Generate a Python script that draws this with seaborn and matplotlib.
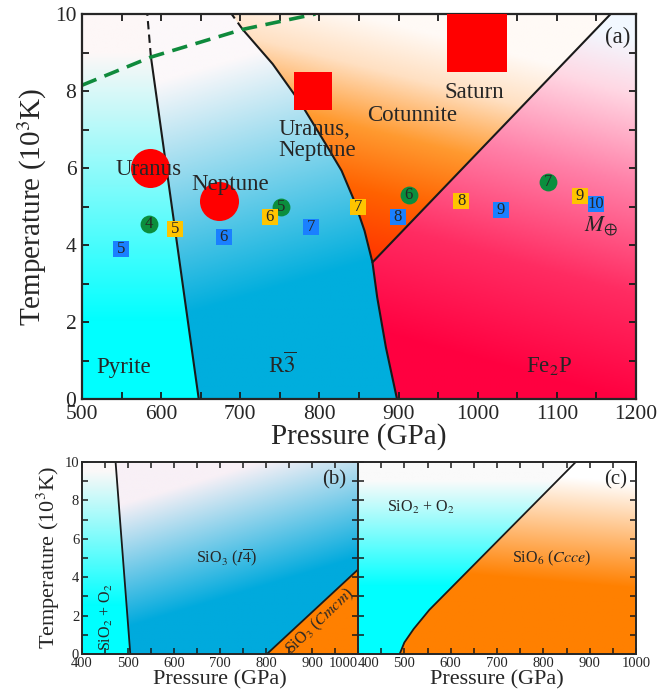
import numpy as np
import pandas as pd
import matplotlib
matplotlib.use('Agg')
import matplotlib.pyplot as plt
import seaborn as sns
from matplotlib.colors import LinearSegmentedColormap
from matplotlib.patches import Polygon
from matplotlib.ticker import MultipleLocator

# ---------------- data ----------------
# panel (a): phase boundaries, pressure in GPa, temperature in 10^3 K
pyr_P = [647.5, 587.0]
pyr_T = [0.0, 8.9]
pyr_dash_P = [587.0, 582.5]
pyr_dash_T = [8.9, 10.0]

r3_P = [898, 884, 873, 867, 857, 844, 828, 808, 777, 741, 703]
r3_T = [0.0, 1.34, 2.64, 3.55, 4.37, 5.15, 5.93, 6.62, 7.66, 8.7, 9.6]
r3_dash_P = [703, 689]
r3_dash_T = [9.6, 10.0]

cot_P = [867, 1168]
cot_T = [3.55, 10.0]

green_P = [500, 587, 703, 795]
green_T = [8.15, 8.88, 9.6, 10.0]

# planets
circ_P = [586, 673]
circ_T = [6.0, 5.13]
un_P, un_T = [792.5], [7.99]
sat_P, sat_T = [999.4], [9.26]

# numbered points (Earth masses)
g_P = [585, 752, 913, 1089]
g_T = [4.55, 4.98, 5.30, 5.63]
g_lab = ['4', '5', '6', '7']
y_P = [618, 737, 849, 979, 1129]
y_T = [4.42, 4.74, 4.98, 5.13, 5.28]
y_lab = ['5', '6', '7', '8', '9']
b_P = [549, 679, 789.5, 899, 1029, 1149]
b_T = [3.90, 4.22, 4.48, 4.72, 4.91, 5.06]
b_lab = ['5', '6', '7', '8', '9', '10']

# panel (b)
b1_P = [473, 505]
b1_T = [10.0, 0.0]
b2_P = [802, 1000]
b2_T = [0.0, 4.4]

# panel (c)
c_P = [490, 500, 520, 554, 870]
c_T = [0.0, 0.6, 1.3, 2.3, 10.0]

bottom_ticks = [400, 500, 600, 700, 800, 900, 1000]

# ---------------- style ----------------
sns.set_theme(style='ticks', rc={
    'xtick.direction': 'in', 'ytick.direction': 'in',
    'xtick.top': True, 'ytick.right': True,
    'axes.linewidth': 1.6,
})
plt.rcParams['font.family'] = ['Liberation Serif', 'DejaVu Serif']
plt.rcParams['mathtext.fontset'] = 'stix'

fig = plt.figure(figsize=(6.61, 7.0), dpi=100)
axa = fig.add_axes([82/661, 301/700, 554/661, 385/700])
axb = fig.add_axes([82/661, 46/700, 276/661, 192/700])
axc = fig.add_axes([358/661, 46/700, 278/661, 192/700])


def fill(ax, px, py, stops, vfun, xr, yr):
    X, Y = np.meshgrid(np.linspace(xr[0], xr[1], 300), np.linspace(yr[0], yr[1], 300))
    v = np.clip(vfun(X, Y), 0, 1)
    cmap = LinearSegmentedColormap.from_list('g', stops)
    im = ax.imshow(v, extent=[xr[0], xr[1], yr[0], yr[1]], origin='lower', cmap=cmap,
                   vmin=0, vmax=1, aspect='auto', zorder=0, interpolation='bilinear')
    poly = Polygon(np.column_stack([px, py]), closed=True, transform=ax.transData,
                   facecolor='none', edgecolor='none')
    ax.add_patch(poly)
    im.set_clip_path(poly)


def line(ax, P, T, color='k', lw=1.5, dashes=None):
    sns.lineplot(x=P, y=T, sort=False, estimator=None, color=color, lw=lw, ax=ax, zorder=2)
    if dashes:
        ax.lines[-1].set_dashes(dashes)


# ---------------- panel (a) ----------------
ax = axa
xr, yr = (500, 1200), (0, 10)
fill(ax, [500] + pyr_P + pyr_dash_P[1:] + [500], [0] + pyr_T + pyr_dash_T[1:] + [10],
     [(0, '#00ffff'), (1, '#fdf7f7')], lambda X, Y: (Y - 2) / 7, xr, yr)
r3_all_P = r3_P + r3_dash_P[1:]
r3_all_T = r3_T + r3_dash_T[1:]
fill(ax, pyr_P + pyr_dash_P[1:] + r3_all_P[::-1],
     pyr_T + pyr_dash_T[1:] + r3_all_T[::-1],
     [(0, '#00aedd'), (1, '#fcf8fa')], lambda X, Y: (Y - 2.6 - 0.006 * (X - 700)) / 6.3, xr, yr)
fill(ax, r3_all_P[3:] + [cot_P[1]], r3_all_T[3:] + [cot_T[1]],
     [(0, '#ff3000'), (0.3, '#ff6200'), (0.55, '#ff9a30'), (0.8, '#ffe0c2'), (1, '#fffaf6')],
     lambda X, Y: (Y - 3.5) / 6.5 + 0.0008 * (X - 850), xr, yr)
fill(ax, [r3_P[0], 1200, 1200] + cot_P[::-1] + r3_P[1:3][::-1],
     [0, 0, 10] + cot_T[::-1] + r3_T[1:3][::-1],
     [(0, '#ff0040'), (0.3, '#ff2c62'), (0.6, '#ff80a8'), (0.85, '#ffd8e4'), (1, '#f2f8ff')],
     lambda X, Y: (Y - 1) / 9.5 + 0.0006 * (X - 1000), xr, yr)

line(ax, pyr_P, pyr_T)
line(ax, pyr_dash_P, pyr_dash_T, dashes=(4, 2.5))
line(ax, r3_P, r3_T)
line(ax, r3_dash_P, r3_dash_T, dashes=(4, 2.5))
line(ax, cot_P, cot_T)
line(ax, green_P, green_T, color='#0f8a3c', lw=2.6, dashes=(4.3, 2.4))

sns.scatterplot(x=circ_P, y=circ_T, s=790, color='#ff0000', linewidth=0, ax=ax, zorder=3)
sns.scatterplot(x=un_P, y=un_T, s=710, marker='s', color='#ff0000', linewidth=0, ax=ax, zorder=3)
sns.scatterplot(x=sat_P, y=sat_T, s=1870, marker='s', color='#ff0000', linewidth=0, ax=ax, zorder=3)

sns.scatterplot(x=g_P, y=g_T, s=165, color='#0b8e3e', linewidth=0, ax=ax, zorder=4)
sns.scatterplot(x=y_P, y=y_T, s=125, marker='s', color='#ffc400', linewidth=0, ax=ax, zorder=4)
sns.scatterplot(x=b_P, y=b_T, s=125, marker='s', color='#1a80ff', linewidth=0, ax=ax, zorder=4)
for P, T, L in zip(g_P + y_P + b_P, g_T + y_T + b_T, g_lab + y_lab + b_lab):
    ax.text(P, T, L, fontsize=12, ha='center', va='center', zorder=5)

lab = dict(fontsize=16.5, ha='center', va='center', zorder=6)
ax.text(584, 5.96, 'Uranus', **lab)
ax.text(687, 5.57, 'Neptune', **lab)
ax.text(748, 6.74, 'Uranus,\nNeptune', fontsize=16.5, ha='left', va='center',
        linespacing=1.0, zorder=6)
ax.text(916.5, 7.36, 'Cotunnite', **lab)
ax.text(996, 7.97, 'Saturn', **lab)
ax.text(1177, 9.4, '(a)', **lab)
ax.text(1156, 4.5, r'$M_{\oplus}$', **lab)
ax.text(552, 0.82, 'Pyrite', **lab)
ax.text(753, 0.87, r'R$\overline{3}$', **lab)
ax.text(1090, 0.85, r'Fe$_2$P', **lab)

ax.set_xlim(500, 1200)
ax.set_ylim(0, 10)
ax.xaxis.set_major_locator(MultipleLocator(100))
ax.xaxis.set_minor_locator(MultipleLocator(50))
ax.yaxis.set_major_locator(MultipleLocator(2))
ax.yaxis.set_minor_locator(MultipleLocator(1))
ax.tick_params(which='both', length=5, width=1.3, labelsize=15.5, color='k', pad=4)
ax.set_xlabel('Pressure (GPa)', fontsize=21, labelpad=0)
ax.set_ylabel(r'Temperature (10$^3$K)', fontsize=21, labelpad=4)

# ---------------- panel (b) ----------------
ax = axb
xr = (400, 1000)
fill(ax, [400, b1_P[1], b1_P[0], 400], [0, 0, 10, 10],
     [(0, '#00ffff'), (1, '#fbf8f8')], lambda X, Y: (Y - 2.5) / 7, xr, yr)
fill(ax, [b1_P[1], b2_P[0], b2_P[1], 1000, b1_P[0]], [0, 0, b2_T[1], 10, 10],
     [(0, '#00aadd'), (1, '#f8f0f6')], lambda X, Y: (Y - 0.68 - 0.0072 * (X - 400)) / 6.5, xr, yr)
fill(ax, [b2_P[0], 1000, 1000], [0, 0, b2_T[1]],
     [(0, '#ff8000'), (1, '#ff8000')], lambda X, Y: Y * 0, xr, yr)
line(ax, b1_P, b1_T, lw=1.3)
line(ax, b2_P, b2_T, lw=1.3)
sm = dict(fontsize=11.5, ha='center', va='center', zorder=6)
ax.text(453, 1.94, r'SiO$_2$ + O$_2$', rotation=90, **sm)
ax.text(714, 5.0, r'SiO$_3$ ($I\overline{4}$)', **sm)
ax.text(918, 1.7, r'SiO$_3$ ($Cmcm$)', rotation=44, **sm)
ax.text(948, 9.06, '(b)', fontsize=15, ha='center', va='center')

# ---------------- panel (c) ----------------
ax = axc
fill(ax, [400] + c_P + [400], [0] + c_T + [10],
     [(0, '#00ffff'), (1, '#fafafa')], lambda X, Y: (Y - 3.5) / 5.5, xr, yr)
fill(ax, c_P + [1000, 1000], c_T + [10, 0],
     [(0, '#ff8000'), (1, '#ffffff')], lambda X, Y: (Y - 4 + 0.002 * (X - 700)) / 5.5, xr, yr)
line(ax, c_P, c_T, lw=1.3)
ax.text(535, 7.64, r'SiO$_2$ + O$_2$', **sm)
ax.text(817, 4.98, r'SiO$_6$ ($Ccce$)', **sm)
ax.text(956, 9.06, '(c)', fontsize=15, ha='center', va='center')

for ax in (axb, axc):
    ax.set_xlim(400, 1000)
    ax.set_ylim(0, 10)
    ax.set_xticks(bottom_ticks)
    ax.xaxis.set_minor_locator(MultipleLocator(50))
    ax.set_yticks([0, 2, 4, 6, 8, 10])
    ax.yaxis.set_minor_locator(MultipleLocator(1))
    ax.tick_params(which='both', length=4, width=1.1, labelsize=10.5, color='k', pad=2)
    ax.set_xlabel('Pressure (GPa)', fontsize=16, labelpad=0)
    for s in ax.spines.values():
        s.set_linewidth(1.4)
axb.set_ylabel(r'Temperature (10$^3$K)', fontsize=16, labelpad=2)
axc.set_ylabel('')
axc.tick_params(labelleft=False)
axb.get_xticklabels()[-1].set_ha('right')
axc.get_xticklabels()[0].set_ha('left')

fig.savefig('out.png', dpi=100)
